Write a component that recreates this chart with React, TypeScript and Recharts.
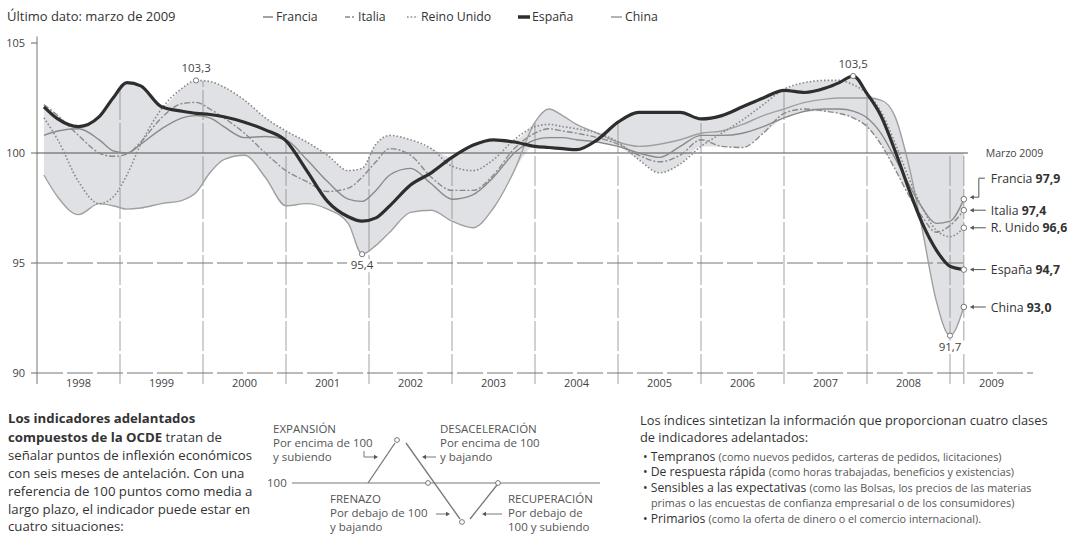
import React from "react";
import { ComposedChart, Area, Line, XAxis, YAxis, ReferenceLine, ReferenceDot } from "recharts";

// months since January 1998
const months = [1, 3, 6, 9, 11, 13, 15, 18, 21, 23, 25, 27, 30, 33, 36, 39, 42, 45, 47, 49, 51, 54, 57, 60, 63, 66, 69, 72, 74, 76, 78, 81, 84, 87, 90, 93, 96, 99, 102, 105, 108, 111, 114, 116, 118, 120, 122, 124, 126, 128, 130, 132, 134];

const espana = [102.1, 101.55, 101.2, 101.65, 102.5, 103.2, 103.05, 102.1, 101.9, 101.8, 101.75, 101.65, 101.4, 101.05, 100.55, 99.2, 97.8, 97.1, 96.9, 97.05, 97.6, 98.55, 99.1, 99.8, 100.35, 100.6, 100.5, 100.3, 100.25, 100.2, 100.15, 100.6, 101.4, 101.85, 101.85, 101.85, 101.55, 101.7, 102.1, 102.5, 102.85, 102.75, 102.95, 103.2, 103.5, 102.7, 101.7, 100.15, 98.4, 96.8, 95.6, 94.85, 94.7];
const reinoUnido = [101.6, 100.6, 98.7, 97.7, 98.0, 99.0, 100.4, 102.0, 102.95, 103.3, 103.25, 103.0, 102.4, 101.6, 101.0, 100.5, 99.9, 99.2, 99.3, 100.4, 100.8, 100.6, 100.2, 99.4, 99.2, 99.7, 100.6, 101.2, 101.3, 101.2, 101.1, 100.9, 100.5, 99.7, 99.1, 99.5, 100.3, 100.9, 101.5, 102.2, 102.9, 103.2, 103.3, 103.3, 103.1, 102.7, 101.9, 100.5, 98.9, 97.5, 96.5, 96.2, 96.6];
const italia = [102.2, 101.7, 100.8, 100.0, 99.85, 99.95, 100.5, 101.6, 102.25, 102.3, 102.0, 101.6, 100.9, 100.0, 99.2, 98.7, 98.25, 98.4, 98.9, 99.6, 100.2, 99.9, 98.9, 98.3, 98.3, 99.0, 100.2, 100.9, 101.1, 101.0, 100.9, 100.7, 100.4, 99.9, 99.6, 99.9, 100.6, 100.3, 100.25, 100.9, 101.8, 102.0, 101.9, 101.8, 101.6, 101.2, 100.4, 99.3, 98.1, 97.1, 96.4, 96.7, 97.4];
const francia = [100.8, 101.0, 101.1, 100.6, 100.1, 100.0, 100.4, 101.1, 101.6, 101.7, 101.6, 101.2, 100.7, 100.75, 100.6, 99.7, 98.7, 97.9, 97.8, 98.3, 99.0, 99.3, 98.6, 97.9, 98.1, 98.9, 100.0, 100.6, 100.7, 100.7, 100.6, 100.5, 100.3, 100.0, 99.8, 100.3, 100.8, 100.8, 100.9, 101.2, 101.6, 101.9, 102.0, 102.0, 101.9, 101.6, 100.9, 99.8, 98.6, 97.5, 96.8, 96.9, 97.9];
const china = [99.0, 98.0, 97.2, 97.7, 97.6, 97.45, 97.5, 97.7, 97.85, 98.2, 99.1, 99.7, 99.9, 98.9, 97.6, 97.7, 97.45, 96.8, 95.4, 95.8, 96.4, 97.3, 97.4, 96.9, 96.6, 97.5, 99.2, 101.4, 102.0, 101.7, 101.3, 100.9, 100.5, 100.3, 100.4, 100.6, 100.9, 101.0, 101.3, 101.7, 102.0, 102.3, 102.45, 102.5, 102.5, 102.5, 102.4, 101.7, 99.5, 96.5, 93.3, 91.7, 93.0];

const yearLabels = ["1998", "1999", "2000", "2001", "2002", "2003", "2004", "2005", "2006", "2007", "2008", "2009"];
const yearTickMonths = [6, 18, 30, 42, 54, 66, 78, 90, 102, 114, 126, 138];
const yearBoundaryMonths = [12, 24, 36, 48, 60, 72, 84, 96, 108, 120];
const lastMonths = [132, 134];
const yTicks = [90, 95, 100, 105];
const shadeFromMonth = 126;
const endMonth = 134;

const peakLabels = [
  { m: 23, v: 103.3, text: "103,3", pos: "top" },
  { m: 47, v: 95.4, text: "95,4", pos: "bottom" },
  { m: 118, v: 103.5, text: "103,5", pos: "top" },
  { m: 132, v: 91.7, text: "91,7", pos: "bottom" },
];
const endLabels = [
  { name: "Francia", v: 97.9, text: "97,9", bracket: true },
  { name: "Italia", v: 97.4, text: "97,4", bracket: false },
  { name: "R. Unido", v: 96.6, text: "96,6", bracket: false },
  { name: "España", v: 94.7, text: "94,7", bracket: false },
  { name: "China", v: 93.0, text: "93,0", bracket: false },
];

const data = months.map((m, i) => {
  const vals = [francia[i], italia[i], reinoUnido[i], espana[i], china[i]];
  const lo = Math.min(...vals);
  let hi = Math.max(...vals);
  if (m >= shadeFromMonth) hi = Math.max(hi, 100);
  return { m, francia: francia[i], italia: italia[i], reinoUnido: reinoUnido[i], espana: espana[i], china: china[i], band: [lo, hi] };
});

const bandTopAt = (x: number) => {
  for (let i = 0; i < data.length - 1; i++) {
    const a = data[i], b = data[i + 1];
    if (x >= a.m && x <= b.m) {
      const t = (x - a.m) / (b.m - a.m);
      return a.band[1] + t * (b.band[1] - a.band[1]);
    }
  }
  return 100;
};

const GRID = "#8a8a8a";
const LINE = "#8a8a8a";

const PeakMark = ({ cx, cy, text, pos }: any) => (
  <g>
    {pos === "bottom" && <rect x={cx - 15} y={cy + 5} width={30} height={13} fill="#fff" />}
    <circle cx={cx} cy={cy} r={2.6} fill="#fff" stroke="#777" strokeWidth={1} />
    <text x={cx} y={pos === "top" ? cy - 8 : cy + 15} textAnchor="middle" fontSize={11.5} fill="#444">
      {text}
    </text>
  </g>
);

const EndMark = ({ cx, cy, name, text, bracket }: any) => {
  const ty = bracket ? cy - 21 : cy;
  const c = "#555";
  return (
    <g>
      {bracket ? (
        <g>
          <path d={`M${cx + 21} ${ty} H${cx + 15} V${cy - 2} H${cx + 9}`} fill="none" stroke={c} strokeWidth={1} />
          <path d={`M${cx + 6} ${cy - 2} l4 -2.2 v4.4 z`} fill={c} />
        </g>
      ) : (
        <g>
          <line x1={cx + 9} x2={cx + 22} y1={cy} y2={cy} stroke={c} strokeWidth={1} />
          <path d={`M${cx + 6} ${cy} l4 -2.2 v4.4 z`} fill={c} />
        </g>
      )}
      <circle cx={cx} cy={cy} r={2.8} fill="#fff" stroke="#777" strokeWidth={1} />
      <text x={cx + 27} y={ty + 4.5} fontSize={12.3} fill="#333">
        {name} <tspan fontWeight={700}>{text}</tspan>
      </text>
    </g>
  );
};

const MarzoLabel = ({ cx, cy }: any) => (
  <text x={cx + 22} y={cy + 4} fontSize={10.5} fill="#444">
    Marzo 2009
  </text>
);

const Arrow = ({ x, y, dir }: any) =>
  dir === "left" ? (
    <path d={`M${x} ${y} l4 -2.2 v4.4 z`} fill="#555" />
  ) : (
    <path d={`M${x} ${y} l-4 -2.2 v4.4 z`} fill="#555" />
  );

export default function App() {
  const txt = "#333";
  const dg = "#555";
  return (
    <div
      style={{
        position: "absolute",
        left: 0,
        top: 0,
        width: 1072,
        height: 535,
        background: "#fff",
        overflow: "hidden",
        fontFamily: '"Open Sans", sans-serif',
      }}
    >
      <div style={{ position: "absolute", left: 0, top: 0 }}>
        <ComposedChart width={1072} height={400} data={data} margin={{ top: 43, right: 39, bottom: 0, left: 0 }}>
          <XAxis
            dataKey="m"
            type="number"
            domain={[0, 144]}
            ticks={yearTickMonths}
            interval={0}
            tickFormatter={(v: number) => yearLabels[yearTickMonths.indexOf(v)]}
            tickLine={false}
            tickSize={4}
            axisLine={{ stroke: "#777", strokeDasharray: "26 4" }}
            tick={{ fontSize: 11, fill: "#444" }}
            height={27}
            allowDataOverflow
          />
          <YAxis
            type="number"
            domain={[90, 105]}
            ticks={yTicks}
            interval={0}
            width={37}
            axisLine={false}
            tickLine={{ stroke: "#666" }}
            tickSize={6}
            tickMargin={6}
            tick={{ fontSize: 11, fill: "#444" }}
            allowDataOverflow
          />
          <ReferenceLine segment={[{ x: 0, y: 89.5 }, { x: 0, y: 105.3 }]} stroke="#777" strokeWidth={1} ifOverflow="visible" />
          {yearBoundaryMonths.map((m) => (
            <ReferenceLine
              key={"g" + m}
              segment={[{ x: m, y: 89.5 }, { x: m, y: bandTopAt(m) }]}
              stroke={GRID}
              strokeWidth={0.8}
              strokeDasharray="30 3"
              ifOverflow="visible"
            />
          ))}
          {lastMonths.map((m) => (
            <ReferenceLine
              key={"l" + m}
              segment={[{ x: m, y: 89.5 }, { x: m, y: 100 }]}
              stroke={GRID}
              strokeWidth={0.8}
              strokeDasharray="30 3"
              ifOverflow="visible"
            />
          ))}
          <ReferenceLine segment={[{ x: 0, y: 95 }, { x: endMonth, y: 95 }]} stroke="#777" strokeDasharray="26 4" strokeWidth={1} ifOverflow="visible" />
          <Area type="monotone" dataKey="band" stroke="none" fill="#c6c9d0" fillOpacity={0.55} isAnimationActive={false} />
          <ReferenceLine segment={[{ x: 0, y: 100 }, { x: endMonth + 0.6, y: 100 }]} stroke="#555" strokeWidth={1.1} ifOverflow="visible" />
          <Line type="monotone" dataKey="china" stroke="#a0a0a0" strokeWidth={1.4} dot={false} isAnimationActive={false} />
          <Line type="monotone" dataKey="francia" stroke={LINE} strokeWidth={1.4} dot={false} isAnimationActive={false} />
          <Line type="monotone" dataKey="italia" stroke={LINE} strokeWidth={1.4} strokeDasharray="6 2 2 2" dot={false} isAnimationActive={false} />
          <Line type="monotone" dataKey="reinoUnido" stroke={LINE} strokeWidth={1.6} strokeDasharray="1.6 2" dot={false} isAnimationActive={false} />
          <Line type="monotone" dataKey="espana" stroke="#2e2e2e" strokeWidth={3.2} dot={false} isAnimationActive={false} />
          <ReferenceDot x={endMonth} y={100} r={1} ifOverflow="visible" shape={(p: any) => <MarzoLabel cx={p.cx} cy={p.cy} />} />
          {peakLabels.map((p) => (
            <ReferenceDot
              key={"p" + p.m}
              x={p.m}
              y={p.v}
              r={3}
              ifOverflow="visible"
              shape={(s: any) => <PeakMark cx={s.cx} cy={s.cy} text={p.text} pos={p.pos} />}
            />
          ))}
          {endLabels.map((e) => (
            <ReferenceDot
              key={"e" + e.name}
              x={endMonth}
              y={e.v}
              r={3}
              ifOverflow="visible"
              shape={(s: any) => <EndMark cx={s.cx} cy={s.cy} name={e.name} text={e.text} bracket={e.bracket} />}
            />
          ))}
        </ComposedChart>
      </div>

      <svg width={1072} height={535} style={{ position: "absolute", left: 0, top: 0, pointerEvents: "none" }}>
        {/* header & legend */}
        <text x={7} y={21} fontSize={13} fill={txt}>Último dato: marzo de 2009</text>
        <line x1={263} x2={273} y1={17} y2={17} stroke={LINE} strokeWidth={1.6} />
        <text x={276} y={21} fontSize={12.3} fill={txt}>Francia</text>
        <line x1={345} x2={355} y1={17} y2={17} stroke={LINE} strokeWidth={1.6} strokeDasharray="5 2 2 2" />
        <text x={358} y={21} fontSize={12.3} fill={txt}>Italia</text>
        <line x1={407} x2={418} y1={17} y2={17} stroke={LINE} strokeWidth={1.6} strokeDasharray="1.6 2" />
        <text x={421} y={21} fontSize={12.3} fill={txt}>Reino Unido</text>
        <line x1={518} x2={530} y1={17} y2={17} stroke="#2e2e2e" strokeWidth={3.5} />
        <text x={532} y={21} fontSize={12.3} fill={txt}>España</text>
        <line x1={611} x2={622} y1={17} y2={17} stroke="#a0a0a0" strokeWidth={1.6} />
        <text x={625} y={21} fontSize={12.3} fill={txt}>China</text>

        {/* left paragraph */}
        <g fontSize={13.2} fill={txt}>
          <text x={8} y={423}><tspan fontWeight={700}>Los indicadores adelantados</tspan></text>
          <text x={8} y={442}><tspan fontWeight={700}>compuestos de la OCDE</tspan> tratan de</text>
          <text x={8} y={460}>señalar puntos de inflexión económicos</text>
          <text x={8} y={478}>con seis meses de antelación. Con una</text>
          <text x={8} y={496}>referencia de 100 puntos como media a</text>
          <text x={8} y={514}>largo plazo, el indicador puede estar en</text>
          <text x={8} y={531}>cuatro situaciones:</text>
        </g>

        {/* diagram */}
        <g fontSize={11.5} fill={dg}>
          <text x={273} y={433}>EXPANSIÓN</text>
          <text x={273} y={447}>Por encima de 100</text>
          <text x={273} y={461}>y subiendo</text>
          <text x={440} y={433}>DESACELERACIÓN</text>
          <text x={440} y={447}>Por encima de 100</text>
          <text x={440} y={461}>y bajando</text>
          <text x={330} y={503}>FRENAZO</text>
          <text x={330} y={517}>Por debajo de 100</text>
          <text x={330} y={531}>y bajando</text>
          <text x={508} y={503}>RECUPERACIÓN</text>
          <text x={508} y={517}>Por debajo de</text>
          <text x={508} y={531}>100 y subiendo</text>
          <text x={267} y={487}>100</text>
        </g>
        <g stroke="#777" strokeWidth={1} fill="none">
          <line x1={292} x2={600} y1={483} y2={483} />
          <line x1={368} y1={483} x2={395} y2={443} strokeWidth={1.3} />
          <line x1={406} y1={443} x2={460} y2={519} strokeWidth={1.3} />
          <line x1={470} y1={519} x2={497} y2={485} strokeWidth={1.3} />
          <path d="M364 451 V457 H374" />
          <line x1={436} x2={426} y1={457} y2={457} />
          <line x1={436} x2={446} y1={514} y2={514} />
          <line x1={502} x2={486} y1={514} y2={514} />
        </g>
        <Arrow x={378} y={457} dir="right" />
        <Arrow x={422} y={457} dir="left" />
        <Arrow x={450} y={514} dir="right" />
        <Arrow x={482} y={514} dir="left" />
        <g fill="#fff" stroke="#777" strokeWidth={1}>
          <circle cx={397} cy={440} r={2.4} />
          <circle cx={428} cy={483} r={2.4} />
          <circle cx={462} cy={522} r={2.4} />
          <circle cx={498} cy={483} r={2.4} />
        </g>

        {/* right paragraph */}
        <g fill={txt}>
          <text x={640} y={425} fontSize={12.8}>Los índices sintetizan la información que proporcionan cuatro clases</text>
          <text x={640} y={442} fontSize={12.8}>de indicadores adelantados:</text>
          <text x={643} y={461} fontSize={12.2}>• Tempranos <tspan fontSize={10.8} fill={dg}>(como nuevos pedidos, carteras de pedidos, licitaciones)</tspan></text>
          <text x={643} y={476} fontSize={12.2}>• De respuesta rápida <tspan fontSize={10.8} fill={dg}>(como horas trabajadas, beneficios y existencias)</tspan></text>
          <text x={643} y={492} fontSize={12.2}>• Sensibles a las expectativas <tspan fontSize={10.8} fill={dg}>(como las Bolsas, los precios de las materias</tspan></text>
          <text x={651} y={507} fontSize={10.8} fill={dg}>primas o las encuestas de confianza empresarial o de los consumidores)</text>
          <text x={643} y={523} fontSize={12.2}>• Primarios <tspan fontSize={10.8} fill={dg}>(como la oferta de dinero o el comercio internacional).</tspan></text>
        </g>
      </svg>
    </div>
  );
}
